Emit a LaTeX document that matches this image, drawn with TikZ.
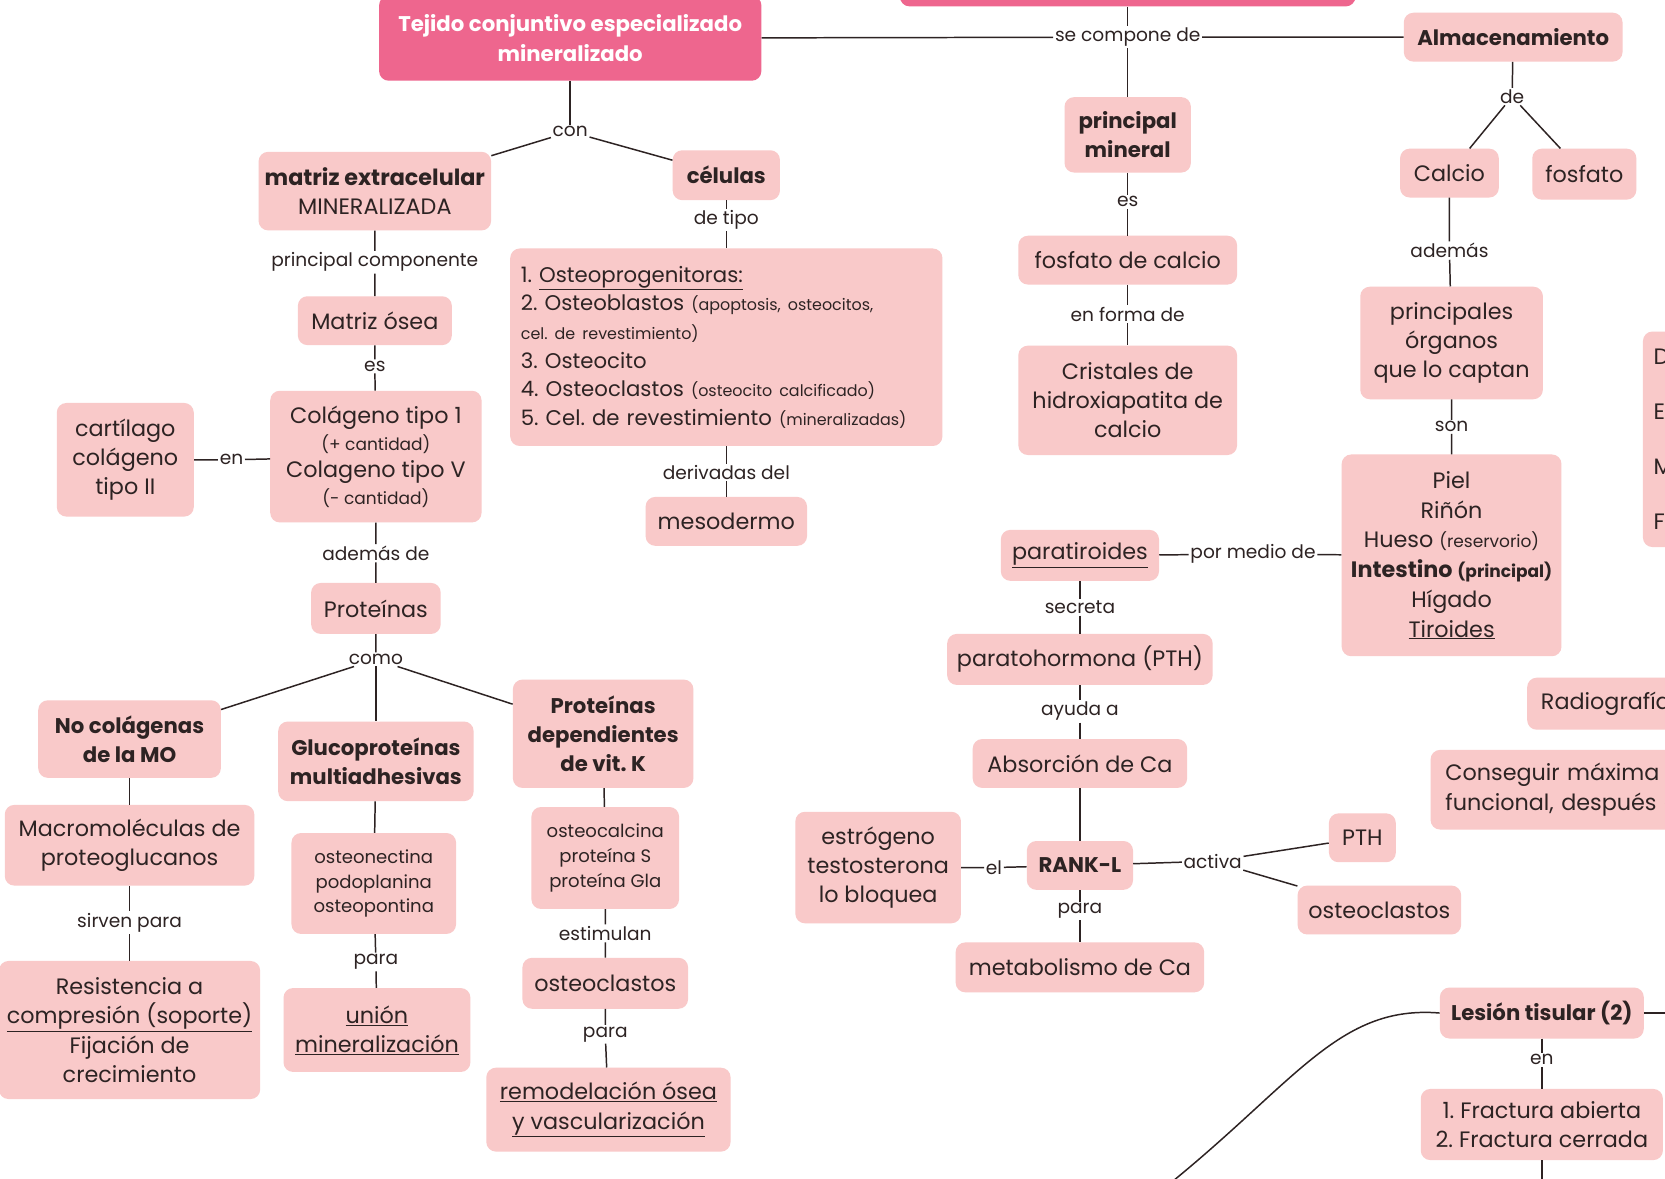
\documentclass[tikz,border=0pt]{standalone}
\usepackage{fontspec}
\setmainfont{Poppins}
\usepackage{tikz}
\usetikzlibrary{shapes.geometric, arrows}
\usepackage{xcolor}
\frenchspacing
\definecolor{rosa}{RGB}{249,201,201}
\definecolor{fucsia}{RGB}{238,102,142}
\definecolor{tinta}{RGB}{45,35,35}
\tikzstyle{concepto} = [fill=rosa, rounded corners=9pt, align=center, inner sep=0pt, text=tinta, font=\fontsize{21}{27.5}\selectfont]
\tikzstyle{negrita} = [font=\bfseries\fontsize{20}{27.5}\selectfont]
\tikzstyle{titulo} = [concepto, fill=fucsia, text=white, font=\bfseries\fontsize{20}{28}\selectfont]
\tikzstyle{enlace} = [inner sep=1.5pt, text=tinta, font=\fontsize{17.5}{20}\selectfont]
\tikzstyle{linea} = [line width=1.4pt, tinta]

\begin{document}
\begin{tikzpicture}[x=1pt, y=-1pt]
		\useasboundingbox (0,0) rectangle (1568,1110);
		\clip (0,0) rectangle (1568,1110);
		\fill[white] (0,0) rectangle (1568,1110);

		\node[titulo, minimum width=429, minimum height=50] (sistema) at (1062,-19) {};
		\node[titulo, minimum width=360, minimum height=80] (tejido) at (537,36) {Tejido conjuntivo especializado\\mineralizado};
		\node[enlace] (compone) at (1062,35) {se compone de};
		\node[concepto, negrita, minimum width=206, minimum height=46] (almacen) at (1425,35) {Almacenamiento};

		\node[enlace] (de) at (1424,91) {de};
		\node[concepto, minimum width=93, minimum height=46] (calcio) at (1365,163) {Calcio};
		\node[concepto, minimum width=98, minimum height=48] (fosfato) at (1492,164) {fosfato};
		\node[enlace] (ademas) at (1365,236) {además};
		\node[concepto, minimum width=172, minimum height=106] (organos) at (1367,323) {principales\\órganos\\que lo captan};
		\node[enlace] (son) at (1367,402) {son};
		\node[concepto, minimum width=207, minimum height=190, font=\fontsize{21}{28}\selectfont] (lista) at (1367,523) {Piel\\Riñón\\Hueso {\fontsize{16}{28}\selectfont(reservorio)}\\{\bfseries Intestino \fontsize{16}{28}\selectfont(principal)}\\Hígado\\\underline{Tiroides}};

		\node[concepto, minimum width=149, minimum height=48] (paratiroides) at (1017,523) {\underline{paratiroides}};
		\node[enlace] (pormedio) at (1180,522) {por medio de};
		\node[enlace] (secreta) at (1017,572) {secreta};
		\node[concepto, minimum width=250, minimum height=48] (pth) at (1017,621) {paratohormona (PTH)};
		\node[enlace] (ayuda) at (1017,670) {ayuda a};
		\node[concepto, minimum width=202, minimum height=46] (absorcion) at (1017,719) {Absorción de Ca};
		\node[concepto, negrita, minimum width=100, minimum height=46] (rankl) at (1017,815) {RANK-L};
		\node[concepto, minimum width=156, minimum height=105] (hormonas) at (827,817) {estrógeno\\testosterona\\lo bloquea};
		\node[enlace] (el) at (936,817) {el};
		\node[enlace] (activa) at (1142,811) {activa};
		\node[concepto, minimum width=63, minimum height=46] (pthb) at (1283,789) {PTH};
		\node[concepto, minimum width=154, minimum height=46] (osteoclastosb) at (1299,857) {osteoclastos};
		\node[enlace] (para) at (1017,858) {para};
		\node[concepto, minimum width=234, minimum height=47] (metabolismo) at (1017,911) {metabolismo de Ca};

		\node[concepto, negrita, minimum width=119, minimum height=71] (mineral) at (1062,127) {principal\\mineral};
		\node[enlace] (es) at (1062,190) {es};
		\node[concepto, minimum width=206, minimum height=46] (fosfcalcio) at (1062,245) {fosfato de calcio};
		\node[enlace] (enforma) at (1062,296) {en forma de};
		\node[concepto, minimum width=206, minimum height=103] (cristales) at (1062,377) {Cristales de\\hidroxiapatita de\\calcio};

		\node[enlace] (con) at (537,124) {con};
		\node[concepto, minimum width=219, minimum height=74] (matriz) at (353,180) {\textbf{matriz extracelular}\\MINERALIZADA};
		\node[concepto, negrita, minimum width=101, minimum height=47] (celulas) at (684,165) {células};
		\node[enlace] (detipo) at (684,207) {de tipo};
		\node[concepto, minimum width=407, minimum height=186, text width=387, align=left, font=\fontsize{20}{27}\selectfont] (tipos) at (684,327) {1. \underline{Osteoprogenitoras:}\\2. Osteoblastos {\fontsize{15}{27}\selectfont(apoptosis, osteocitos,}\\{\fontsize{15}{27}\selectfont cel. de revestimiento)}\\3. Osteocito\\4. Osteoclastos {\fontsize{15}{27}\selectfont(osteocito calcificado)}\\5. Cel. de revestimiento {\fontsize{15}{27}\selectfont(mineralizadas)}};
		\node[enlace] (derivadas) at (684,445) {derivadas del};
		\node[concepto, minimum width=152, minimum height=46] (mesodermo) at (684,491) {mesodermo};

		\node[enlace] (componente) at (353,247) {principal componente};
		\node[concepto, minimum width=145, minimum height=46] (mosea) at (353,302) {Matriz ósea};
		\node[enlace] (es2) at (353,345) {es};
		\node[concepto, minimum width=199, minimum height=124, font=\fontsize{21}{25.5}\selectfont] (colageno) at (354,430) {Colágeno tipo 1\\{\fontsize{16}{25.5}\selectfont(+ cantidad)}\\Colageno tipo V\\{\fontsize{16}{25.5}\selectfont(- cantidad)}};
		\node[concepto, minimum width=129, minimum height=107] (cartilago) at (118,433) {cartílago\\colágeno\\tipo II};
		\node[enlace] (en) at (218,433) {en};
		\node[enlace] (ademasde) at (354,521) {además de};
		\node[concepto, minimum width=122, minimum height=48] (proteinas) at (354,573) {Proteínas};
		\node[enlace] (como) at (354,621) {como};

		\node[concepto, negrita, minimum width=172, minimum height=73] (nocolag) at (122,696) {No colágenas\\de la MO};
		\node[concepto, negrita, minimum width=184, minimum height=75] (gluco) at (354,717) {Glucoproteínas\\multiadhesivas};
		\node[concepto, negrita, minimum width=170, minimum height=102] (vitk) at (568,691) {Proteínas\\dependientes\\de vit. K};
		\node[concepto, minimum width=235, minimum height=76] (macro) at (122,796) {Macromoléculas de\\proteoglucanos};
		\node[enlace] (sirven) at (122,869) {sirven para};
		\node[concepto, minimum width=246, minimum height=130] (resist) at (122,970) {Resistencia a\\\underline{compresión (soporte)}\\Fijación de\\crecimiento};
		\node[concepto, minimum width=155, minimum height=95, font=\fontsize{17}{23.5}\selectfont] (osteonectina) at (352,832) {osteonectina\\podoplanina\\osteopontina};
		\node[enlace] (para2) at (354,906) {para};
		\node[concepto, minimum width=176, minimum height=79] (union) at (355,970) {\underline{unión}\\\underline{mineralización}};
		\node[concepto, minimum width=139, minimum height=96, font=\fontsize{17}{23.5}\selectfont] (osteocalcina) at (570,808) {osteocalcina\\proteína S\\proteína Gla};
		\node[enlace] (estimulan) at (570,879) {estimulan};
		\node[concepto, minimum width=156, minimum height=48] (osteoclastos) at (570,926) {osteoclastos};
		\node[enlace] (para3) at (570,974) {para};
		\node[concepto, minimum width=230, minimum height=79] (remodelacion) at (573,1045) {\underline{remodelación ósea}\\\underline{y vascularización}};

		\node[concepto, anchor=north west, minimum width=120, minimum height=203, text width=100, align=left, font=\fontsize{21}{52}\selectfont] (cortado) at (1547,312) {D\\E\\M\\F};
		\node[concepto, anchor=north west, minimum width=210, minimum height=49, text width=184, align=left] (radio) at (1438,638) {Radiografía};
		\node[concepto, anchor=north west, minimum width=330, minimum height=75, text width=302, align=left] (conseguir) at (1347,706) {Conseguir máxima r\\funcional, después e};
		\node[concepto, negrita, minimum width=192, minimum height=48] (lesion) at (1452,954) {Lesión tisular (2)};
		\node[enlace] (en2) at (1452,998) {en};
		\node[concepto, minimum width=228, minimum height=67] (fractura) at (1452,1059) {1. Fractura abierta\\2. Fractura cerrada};
		\coordinate (fin1) at (1452,1130);
		\coordinate (fin2) at (1600,954);
		\coordinate (fin3) at (1095,1120);

		\draw[linea] (sistema) -- (compone) -- (mineral);
		\draw[linea] (tejido) -- (compone) -- (almacen);
		\draw[linea] (almacen) -- (de);
		\draw[linea] (de) -- (calcio);
		\draw[linea] (de) -- (fosfato);
		\draw[linea] (calcio) -- (ademas) -- (organos) -- (son) -- (lista);
		\draw[linea] (paratiroides) -- (pormedio) -- (lista);
		\draw[linea] (paratiroides) -- (secreta) -- (pth) -- (ayuda) -- (absorcion) -- (rankl);
		\draw[linea] (hormonas) -- (el) -- (rankl);
		\draw[linea] (rankl) -- (activa);
		\draw[linea] (activa) -- (pthb);
		\draw[linea] (activa) -- (osteoclastosb);
		\draw[linea] (rankl) -- (para) -- (metabolismo);
		\draw[linea] (mineral) -- (es) -- (fosfcalcio) -- (enforma) -- (cristales);

		\draw[linea] (tejido) -- (con);
		\draw[linea] (con) -- (matriz);
		\draw[linea] (con) -- (celulas);
		\draw[linea] (celulas) -- (detipo) -- (tipos) -- (derivadas) -- (mesodermo);
		\draw[linea] (matriz) -- (componente) -- (mosea) -- (es2) -- (colageno) -- (ademasde) -- (proteinas) -- (como);
		\draw[linea] (cartilago) -- (en) -- (colageno);
		\draw[linea] (como) -- (nocolag);
		\draw[linea] (como) -- (gluco);
		\draw[linea] (como) -- (vitk);
		\draw[linea] (nocolag) -- (macro) -- (sirven) -- (resist);
		\draw[linea] (gluco) -- (osteonectina) -- (para2) -- (union);
		\draw[linea] (vitk) -- (osteocalcina) -- (estimulan) -- (osteoclastos) -- (para3) -- (remodelacion);

		\draw[linea] (lesion) -- (en2) -- (fractura);
		\draw[linea] (fractura) -- (fin1);
		\draw[linea] (lesion) -- (fin2);
		\draw[linea] (lesion.west) .. controls (1260,946) and (1220,1020) .. (fin3);
	\end{tikzpicture}
\end{document}
